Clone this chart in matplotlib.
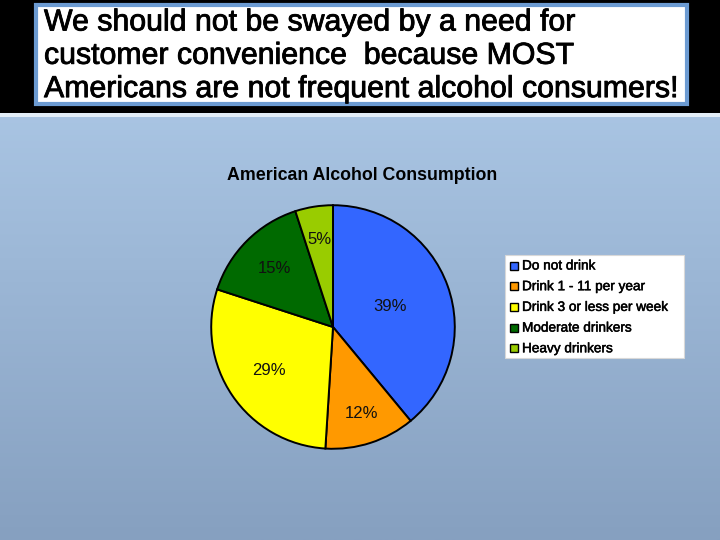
import matplotlib
matplotlib.use("Agg")
import matplotlib.pyplot as plt
import matplotlib.patheffects as pe
import numpy as np
from matplotlib.patches import Rectangle

plt.rcParams['font.family'] = ['Liberation Sans', 'DejaVu Sans']

headline = ["We should not be swayed by a need for",
            "customer convenience  because MOST",
            "Americans are not frequent alcohol consumers!"]
chart_title = "American Alcohol Consumption"
categories = ["Do not drink", "Drink 1 - 11 per year", "Drink 3 or less per week",
              "Moderate drinkers", "Heavy drinkers"]
values = [39, 12, 29, 15, 5]
colors = ["#3366FF", "#FF9900", "#FFFF00", "#006A00", "#99CC00"]
label_dist = [0.50, 0.75, 0.64, 0.68, 0.73]

W, H = 720, 540
fig = plt.figure(figsize=(7.2, 5.4), dpi=100)

# background gradient
bg = fig.add_axes([0, 0, 1, 1])
bg.set_axis_off()
grad = np.linspace(0, 1, 256).reshape(-1, 1)
c_top = np.array([0xB2, 0xCE, 0xEC]) / 255
c_bot = np.array([0x86, 0xA0, 0xC0]) / 255
img = c_top[None, None, :] * (1 - grad[:, :, None]) + c_bot[None, None, :] * grad[:, :, None]
bg.imshow(img, aspect='auto', extent=[0, 1, 0, 1])
bg.set_xlim(0, 1); bg.set_ylim(0, 1)

# black header band + white line
fig.patches.append(Rectangle((0, 1 - 113 / H), 1, 113 / H, transform=fig.transFigure,
                             facecolor='black', edgecolor='none', zorder=1))
fig.patches.append(Rectangle((0, 1 - 117 / H), 1, 4 / H, transform=fig.transFigure,
                             facecolor='#E4EEF8', edgecolor='none', zorder=1))
# title box
fig.patches.append(Rectangle((36 / W, 1 - 104 / H), 651 / W, 99 / H, transform=fig.transFigure,
                             facecolor='white', edgecolor='#6C9BD2', linewidth=3, zorder=2))
thick = [pe.withStroke(linewidth=0.6, foreground='black')]
for i, line in enumerate(headline):
    fig.text(44 / W, 1 - (22.5 + i * 33.3) / H, line, fontsize=21.8, color='black',
             ha='left', va='center', zorder=3, path_effects=thick)

# chart title
fig.text(362 / W, 1 - 176 / H, chart_title, fontsize=12.8, fontweight='bold',
         ha='center', va='center', zorder=3)

# pie
R = 123
ax = fig.add_axes([(333 - R) / W, 1 - (327 + R) / H, 2 * R / W, 2 * R / H])
wedges, texts = ax.pie(values, colors=colors, startangle=90, counterclock=False,
                       wedgeprops=dict(edgecolor='black', linewidth=1.4), radius=1)
total = sum(values)
cum = 0
for v, d in zip(values, label_dist):
    mid = np.deg2rad(90 - (cum + v / 2) / total * 360)
    cum += v
    ax.text(d * np.cos(mid), d * np.sin(mid), f"{v}%", ha='center', va='center',
            fontsize=12, color='#111111')
ax.set_xlim(-1.01, 1.01); ax.set_ylim(-1.01, 1.01)
ax.set_aspect('equal')
ax.set_axis_off()

# legend
fig.patches.append(Rectangle((505 / W, 1 - 358 / H), 179 / W, 103 / H, transform=fig.transFigure,
                             facecolor='white', edgecolor='#D8D8D8', linewidth=0.8, zorder=2))
thin = [pe.withStroke(linewidth=0.35, foreground='black')]
for i, (cat, col) in enumerate(zip(categories, colors)):
    y = 1 - (265.5 + i * 20.7) / H
    fig.patches.append(Rectangle((510 / W, y - 4 / H), 8 / W, 8 / H, transform=fig.transFigure,
                                 facecolor=col, edgecolor='black', linewidth=1, zorder=3))
    fig.text(522 / W, y, cat, fontsize=9.8, ha='left', va='center', zorder=3,
             path_effects=thin)

fig.savefig("out.png", dpi=100)
